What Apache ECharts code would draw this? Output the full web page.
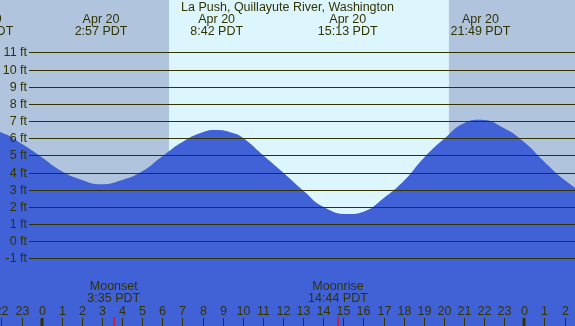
<!DOCTYPE html>
<html>
<head>
<meta charset="utf-8">
<script src="https://cdn.jsdelivr.net/npm/echarts@6/dist/echarts.min.js"></script>
<style>html,body{margin:0;padding:0;background:#b0c4de;}#c{width:575px;height:326px;}</style>
</head>
<body>
<div id="c"></div>
<script>
// ---- data ----
const tideHours = [-3,-2,-1,0,1,2,2.95,4,5,6,7,8,8.7,9.5,10,11,12,13,14,15.217,16,17,18,19,20,21,21.817,23,24,25,26,27];
const tideFt    = [6.55,6.33,5.67,4.89,4.07,3.57,3.32,3.57,4.07,4.95,5.78,6.35,6.48,6.30,6.02,5.02,4.00,2.95,2.00,1.58,1.72,2.50,3.50,4.85,5.95,6.87,7.07,6.58,5.76,4.62,3.57,2.75];
const gridFt = [-1,0,1,2,3,4,5,6,7,8,9,10,11];
const tickHours = [-2,-1,0,1,2,3,4,5,6,7,8,9,10,11,12,13,14,15,16,17,18,19,20,21,22,23,24,25,26];
const midnightHours = [0,24];
const eventHours = [-2.9, 2.95, 8.7, 15.217, 21.817];
const eventDates = ['Apr 19','Apr 20','Apr 20','Apr 20','Apr 20'];
const eventTimes = ['21:06 PDT','2:57 PDT','8:42 PDT','15:13 PDT','21:49 PDT'];
const moonHours = [3.583, 14.733];
const moonNames = ['Moonset','Moonrise'];
const moonTimes = ['3:35 PDT','14:44 PDT'];
const sunrise = 6.33, sunset = 20.25;
const titleText = 'La Push, Quillayute River, Washington';

const TXT = '#333300';
const FAMILY = '"Liberation Sans", Arial, sans-serif';
const FONT = '12.5px ' + FAMILY;
const NIGHT = '#b0c4de', DAY = '#ddf6fe', TIDE = '#4161d7';

const chart = echarts.init(document.getElementById('c'), null, {renderer:'canvas'});
function txt(text, x, y, align) {
  return {type:'text', z2: 10, style:{text, x, y, font: FONT, fill: TXT, align: align||'center', verticalAlign:'middle', textAlign: align||'center', textVerticalAlign:'middle'}};
}
chart.setOption({
  animation: false,
  title: {text: titleText, left: 'center', top: 1, padding: 0, textStyle:{fontSize: 12.5, fontWeight:'normal', color: TXT, fontFamily: FAMILY}},
  grid: {left:0, right:0, top:0, bottom:0, containLabel:false, outerBoundsMode:'none', show:true, backgroundColor: NIGHT, borderWidth:0},
  xAxis: {type:'value', min:-2.074, max:26.52, axisLine:{show:false}, splitLine:{show:false}, axisTick:{show:false}, axisLabel:{show:false}},
  yAxis: {type:'value', min:-4.94, max:14.05, show:false, splitLine:{show:false}},
  series: [
    {type:'line', data:[], z:1, markArea:{silent:true, itemStyle:{color: DAY}, data:[[{xAxis: sunrise},{xAxis: sunset}]]}},
    {type:'line', z:2, data: tideHours.map((h,i)=>[h, tideFt[i]]), smooth:0.5, showSymbol:false, symbol:'none',
      lineStyle:{width:0}, areaStyle:{color: TIDE, opacity:1, origin:'start'}, clip:true},
    {type:'custom', z:3, data: gridFt.map(v=>[0,v]), renderItem:(params, api)=>{
      const cs = params.coordSys;
      const y = Math.round(api.coord([0, api.value(1)])[1]) + 0.5;
      return {type:'group', children:[
        {type:'line', shape:{x1: cs.x+29, y1:y, x2: cs.x+cs.width, y2:y}, style:{stroke: TXT, lineWidth:1}},
        txt(api.value(1)+' ft', cs.x+27, y, 'right')
      ]};
    }},
    {type:'custom', z:4, data: eventHours.map((h,i)=>[h,i]), renderItem:(params, api)=>{
      const cs = params.coordSys;
      const x = api.coord([api.value(0), 0])[0];
      const i = api.value(1);
      return {type:'group', children:[txt(eventDates[i], x, cs.y+19.5), txt(eventTimes[i], x, cs.y+31.5)]};
    }},
    {type:'custom', z:4, data: tickHours.map(h=>[h,0]), renderItem:(params, api)=>{
      const cs = params.coordSys;
      const h = api.value(0);
      const x = Math.round(api.coord([h, 0])[0]) + 0.5;
      const bottom = cs.y + cs.height;
      return {type:'group', children:[
        {type:'line', shape:{x1:x, y1:bottom-8, x2:x, y2:bottom}, style:{stroke: TXT, lineWidth:1}},
        txt(String(((h % 24) + 24) % 24), x, bottom-14)
      ]};
    }},
    {type:'custom', z:5, data: moonHours.map((h,i)=>[h,i]), renderItem:(params, api)=>{
      const cs = params.coordSys;
      const x = api.coord([api.value(0), 0])[0];
      const i = api.value(1);
      const bottom = cs.y + cs.height;
      return {type:'group', children:[
        txt(moonNames[i], x, bottom-39),
        txt(moonTimes[i], x, bottom-27),
        {type:'rect', shape:{x: Math.round(x)-0.5, y: bottom-9, width:1.2, height:9}, style:{fill:'#ff0000'}}
      ]};
    }},
    {type:'custom', z:5, data: midnightHours.map(h=>[h,0]), renderItem:(params, api)=>{
      const cs = params.coordSys;
      const x = api.coord([api.value(0), 0])[0];
      const bottom = cs.y + cs.height;
      return {type:'rect', shape:{x: Math.round(x)-1.5, y: bottom-8, width:3, height:8}, style:{fill: TXT}};
    }}
  ]
});
</script>
</body>
</html>
